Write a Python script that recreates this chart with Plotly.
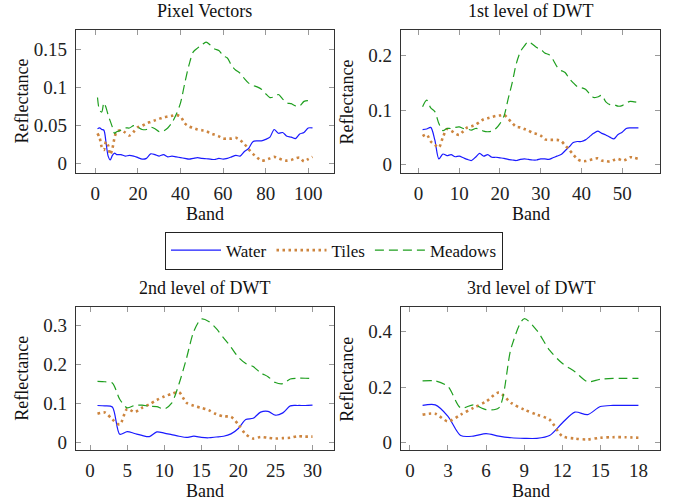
import plotly.graph_objects as go

# ---------------- data ----------------
bands_pv = [1, 2, 3, 4, 5, 6, 7, 8, 9, 10, 12, 14, 16, 18, 20, 22, 24, 26, 28, 30, 32, 34, 36, 38, 40,
            42, 44, 46, 48, 50, 52, 54, 56, 58, 60, 62, 64, 66, 68, 70, 72, 74, 76, 78, 80, 82, 84, 86,
            88, 90, 92, 94, 96, 98, 100, 102]
water_pv = [0.046, 0.047, 0.045, 0.044, 0.028, 0.010, 0.005, 0.011, 0.014, 0.012, 0.012, 0.010, 0.011,
            0.010, 0.008, 0.006, 0.007, 0.013, 0.012, 0.010, 0.012, 0.009, 0.010, 0.009, 0.008, 0.007,
            0.006, 0.007, 0.008, 0.007, 0.0065, 0.006, 0.0055, 0.007, 0.006, 0.007, 0.009, 0.011, 0.010,
            0.016, 0.020, 0.029, 0.030, 0.030, 0.032, 0.035, 0.045, 0.040, 0.041, 0.036, 0.035, 0.033,
            0.039, 0.041, 0.047, 0.047]
tiles_pv = [0.040, 0.034, 0.022, 0.018, 0.029, 0.024, 0.012, 0.020, 0.034, 0.042, 0.044, 0.041, 0.037,
            0.042, 0.048, 0.050, 0.053, 0.055, 0.057, 0.059, 0.061, 0.062, 0.063, 0.064, 0.062, 0.053,
            0.049, 0.047, 0.045, 0.044, 0.043, 0.040, 0.038, 0.036, 0.033, 0.033, 0.033, 0.034, 0.031,
            0.026, 0.019, 0.013, 0.008, 0.004, 0.005, 0.007, 0.009, 0.007, 0.005, 0.004, 0.005, 0.007,
            0.008, 0.003, 0.006, 0.009]
meadows_pv = [0.087, 0.070, 0.068, 0.080, 0.074, 0.064, 0.056, 0.048, 0.040, 0.042, 0.044, 0.047, 0.047,
              0.050, 0.048, 0.045, 0.045, 0.048, 0.046, 0.042, 0.043, 0.047, 0.054, 0.065, 0.080, 0.106,
              0.130, 0.147, 0.152, 0.156, 0.160, 0.156, 0.151, 0.149, 0.142, 0.139, 0.129, 0.123, 0.119,
              0.112, 0.106, 0.103, 0.101, 0.098, 0.092, 0.087, 0.088, 0.091, 0.085, 0.080, 0.079, 0.076,
              0.076, 0.082, 0.083, 0.081]

bands_l1 = list(range(1, 55))
water_l1 = [0.064, 0.065, 0.068, 0.045, 0.010, 0.019, 0.016, 0.018, 0.014, 0.015, 0.012, 0.009, 0.007,
            0.013, 0.020, 0.015, 0.018, 0.013, 0.013, 0.012, 0.011, 0.009, 0.008, 0.007, 0.009, 0.010,
            0.009, 0.008, 0.008, 0.010, 0.010, 0.009, 0.012, 0.015, 0.018, 0.025, 0.032, 0.040, 0.042,
            0.042, 0.045, 0.051, 0.057, 0.061, 0.057, 0.054, 0.050, 0.047, 0.055, 0.059, 0.066, 0.067,
            0.067, 0.067]
tiles_l1 = [0.052, 0.055, 0.042, 0.036, 0.031, 0.050, 0.065, 0.062, 0.057, 0.054, 0.061, 0.068, 0.070,
            0.073, 0.078, 0.083, 0.085, 0.087, 0.089, 0.090, 0.091, 0.084, 0.076, 0.069, 0.068, 0.065,
            0.062, 0.058, 0.056, 0.053, 0.046, 0.045, 0.045, 0.045, 0.043, 0.035, 0.027, 0.018, 0.010,
            0.006, 0.006, 0.008, 0.010, 0.011, 0.007, 0.006, 0.005, 0.008, 0.010, 0.007, 0.009, 0.013,
            0.012, 0.010]
meadows_l1 = [0.106, 0.118, 0.104, 0.097, 0.075, 0.062, 0.066, 0.066, 0.068, 0.069, 0.066, 0.065, 0.063,
              0.066, 0.065, 0.061, 0.060, 0.061, 0.066, 0.075, 0.089, 0.120, 0.150, 0.185, 0.207, 0.218,
              0.226, 0.221, 0.215, 0.212, 0.205, 0.202, 0.193, 0.180, 0.173, 0.169, 0.158, 0.150, 0.143,
              0.141, 0.138, 0.130, 0.123, 0.124, 0.127, 0.115, 0.110, 0.110, 0.107, 0.108, 0.113, 0.116,
              0.115, 0.114]

bands_l2 = list(range(1, 31))
water_l2 = [0.094, 0.093, 0.090, 0.020, 0.027, 0.022, 0.017, 0.014, 0.026, 0.023, 0.019, 0.015, 0.012,
            0.015, 0.012, 0.011, 0.013, 0.015, 0.021, 0.035, 0.058, 0.061, 0.077, 0.079, 0.069, 0.075,
            0.093, 0.094, 0.094, 0.095]
tiles_l2 = [0.073, 0.076, 0.058, 0.045, 0.085, 0.077, 0.088, 0.097, 0.108, 0.117, 0.124, 0.128, 0.101,
            0.093, 0.088, 0.082, 0.072, 0.066, 0.065, 0.045, 0.020, 0.009, 0.013, 0.011, 0.009, 0.010,
            0.011, 0.015, 0.014, 0.014]
meadows_l2 = [0.156, 0.155, 0.152, 0.110, 0.088, 0.094, 0.095, 0.092, 0.091, 0.085, 0.100, 0.150, 0.215,
              0.285, 0.316, 0.310, 0.292, 0.268, 0.244, 0.218, 0.202, 0.194, 0.178, 0.168, 0.153, 0.150,
              0.162, 0.164, 0.164, 0.163]

bands_l3 = list(range(1, 19))
water_l3 = [0.134, 0.136, 0.095, 0.026, 0.024, 0.033, 0.024, 0.018, 0.016, 0.016, 0.026, 0.071, 0.110,
            0.101, 0.130, 0.134, 0.134, 0.134]
tiles_l3 = [0.101, 0.104, 0.077, 0.101, 0.125, 0.148, 0.180, 0.142, 0.119, 0.101, 0.083, 0.024, 0.015,
            0.012, 0.018, 0.020, 0.020, 0.018]
meadows_l3 = [0.222, 0.222, 0.202, 0.125, 0.136, 0.119, 0.125, 0.344, 0.445, 0.403, 0.332, 0.285, 0.255,
              0.219, 0.228, 0.231, 0.231, 0.231]

titles = ["Pixel Vectors", "1st level of DWT", "2nd level of DWT", "3rd level of DWT"]
series_names = ["Water", "Tiles", "Meadows"]
xticks = [[0, 20, 40, 60, 80, 100], [0, 10, 20, 30, 40, 50], [0, 5, 10, 15, 20, 25, 30],
          [0, 3, 6, 9, 12, 15, 18]]
yticks = [[0, 0.05, 0.1, 0.15], [0, 0.1, 0.2], [0, 0.1, 0.2, 0.3], [0, 0.2, 0.4]]
yticktext = [["0", "0.05", "0.1", "0.15"], ["0", "0.1", "0.2"], ["0", "0.1", "0.2", "0.3"],
             ["0", "0.2", "0.4"]]
x_title = "Band"
y_title = "Reflectance"

# ---------------- styling / layout ----------------
W, H = 673, 504
FONT = "Liberation Serif"
colors = ["#1a1aff", "#cd853f", "#1f9f1f"]
dashes = ["solid", "2.5px,3.5px", "9px,5px"]
widths = [1.2, 2.6, 1.2]

panels = [
    (bands_pv, [water_pv, tiles_pv, meadows_pv]),
    (bands_l1, [water_l1, tiles_l1, meadows_l1]),
    (bands_l2, [water_l2, tiles_l2, meadows_l2]),
    (bands_l3, [water_l3, tiles_l3, meadows_l3]),
]
# frame boxes in pixels: (left, right, top, bottom)
boxes = [(76, 334, 30, 174), (401, 660, 30, 174), (76, 334, 309, 453), (401, 660, 309, 453)]
xranges = [[-9.1, 112.1], [-4.3, 59.3], [-1.9, 32.9], [-0.7, 19.7]]
yranges = [[-0.0122, 0.1761], [-0.0159, 0.2476], [-0.0212, 0.3467], [-0.027, 0.4865]]

fig = go.Figure()
annotations = []
for i, (bands, ys) in enumerate(panels):
    ax = "" if i == 0 else str(i + 1)
    for j, y in enumerate(ys):
        fig.add_trace(go.Scatter(
            x=bands, y=y, mode="lines", name=series_names[j],
            line=dict(color=colors[j], width=widths[j], dash=dashes[j], shape="spline", smoothing=0.8),
            xaxis="x" + ax, yaxis="y" + ax, showlegend=(i == 0)))
    l, r, t, b = boxes[i]
    common = dict(showline=True, linecolor="#333333", linewidth=1.2, mirror="allticks",
                  ticks="inside", ticklen=5, tickcolor="#999999", tickwidth=1,
                  showgrid=False, zeroline=False,
                  tickfont=dict(family=FONT, size=19, color="#222222"))
    fig.layout["xaxis" + ax] = dict(domain=[l / W, r / W], range=xranges[i], anchor="y" + ax,
                                   tickvals=xticks[i], ticktext=[str(v) for v in xticks[i]],
                                   ticklabelstandoff=3, **common)
    fig.layout["yaxis" + ax] = dict(domain=[1 - b / H, 1 - t / H], range=yranges[i], anchor="x" + ax,
                                   tickvals=yticks[i], ticktext=yticktext[i],
                                   ticklabelstandoff=4, **common)
    cx = (l + r) / 2
    annotations.append(dict(text=titles[i], x=cx / W, y=1 - (t - 19) / H, xref="paper", yref="paper",
                            showarrow=False, xanchor="center", yanchor="middle",
                            font=dict(family=FONT, size=18, color="#111111")))
    annotations.append(dict(text=x_title, x=cx / W, y=1 - (b + 41) / H, xref="paper", yref="paper",
                            showarrow=False, xanchor="center", yanchor="middle",
                            font=dict(family=FONT, size=18, color="#111111")))
    annotations.append(dict(text=y_title, x=(l - 54) / W, y=1 - ((t + b) / 2) / H, xref="paper",
                            yref="paper", showarrow=False, textangle=-90, xanchor="center",
                            yanchor="middle", font=dict(family=FONT, size=18, color="#111111")))

fig.update_layout(
    width=W, height=H, margin=dict(l=0, r=0, t=0, b=0),
    paper_bgcolor="white", plot_bgcolor="white",
    annotations=annotations,
    legend=dict(orientation="h", x=334 / W, y=1 - 233 / H, xanchor="center", yanchor="top",
                bordercolor="#222222", borderwidth=1, bgcolor="white",
                font=dict(family=FONT, size=17, color="#111111"),
                itemwidth=50, tracegroupgap=0),
)
fig.write_html("out.html")
